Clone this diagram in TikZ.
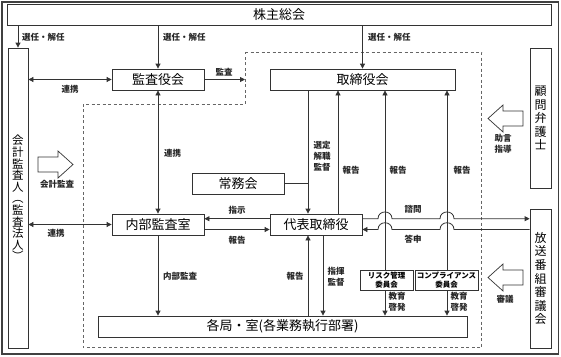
\documentclass[tikz,border=0pt]{standalone}
\usepackage{fontspec}
\newfontfamily\jp{Noto Sans CJK JP}
\usetikzlibrary{arrows.meta}
\begin{document}
\begin{tikzpicture}[x=1pt,y=-1pt,
  box/.style={draw=black!80, line width=0.8pt, inner sep=0pt, fill=white,
    font=\jp\fontsize{13}{13}\selectfont},
  vbox/.style={box, align=center, minimum width=21pt},
  cbox/.style={box, align=center, minimum height=20pt,
    font=\jp\bfseries\fontsize{7.5}{9.5}\selectfont},
  lbl/.style={font=\jp\bfseries\fontsize{8.5}{11}\selectfont, inner sep=0pt, align=center, text=black!85},
  conn/.style={draw=black!80, line width=0.8pt},
  arr/.style={conn, -{Triangle[length=5pt,width=5pt]}},
  darr/.style={conn, {Triangle[length=5pt,width=5pt]}-{Triangle[length=5pt,width=5pt]}},
  hollow/.style={draw=black!80, line width=0.7pt, fill=white},
]
\useasboundingbox (0,0) rectangle (561,356);
\fill[white] (0,0) rectangle (561,356);
\draw[black!75, line width=1.1pt] (2,2) rectangle (558.5,354);

% dashed region
\draw[black!60, line width=0.8pt, dash pattern=on 3pt off 2.5pt]
  (245,52) -- (481.5,52) -- (481.5,347.5) -- (83,347.5) -- (83,104) -- (245,104) -- cycle;

% boxes
\node[box, minimum width=544pt, minimum height=21pt] (sh) at (279,14.5) {株主総会};
\node[vbox, minimum width=20pt, minimum height=300pt,
  font=\jp\fontsize{11.5}{11.6}\selectfont] (kaikei) at (18,198)
  {会\\計\\監\\査\\人\\︵\\監\\査\\法\\人\\︶};
\node[vbox, minimum height=140pt, font=\jp\fontsize{12}{13.4}\selectfont] (komon) at (540.5,118)
  {顧\\問\\弁\\護\\士};
\node[vbox, minimum height=139pt, font=\jp\fontsize{12}{13.6}\selectfont] (houso) at (540.5,278.5)
  {放\\送\\番\\組\\審\\議\\会};
\node[box, minimum width=92pt, minimum height=21pt] (kansa) at (158,79.5) {監査役会};
\node[box, minimum width=185pt, minimum height=21pt] (tori) at (362.5,79.5) {取締役会};
\node[box, minimum width=92pt, minimum height=21pt] (jomu) at (238,183.5) {常務会};
\node[box, minimum width=92pt, minimum height=21pt] (naibu) at (158,224.5) {内部監査室};
\node[box, minimum width=92pt, minimum height=21pt] (daihyo) at (316,224.5) {代表取締役};
\node[box, minimum width=369pt, minimum height=21pt] (kak) at (282.5,326.5) {各局・室(各業務執行部署)};
\node[cbox, minimum width=53pt] (risk) at (386.5,280) {リスク管理\\委員会};
\node[cbox, minimum width=63pt] (comp) at (446.5,280) {コンプライアンス\\委員会};

% helper coordinates
\coordinate (xA) at (308,0);
\coordinate (xB) at (338,0);
\coordinate (xC) at (385,0);
\coordinate (xD) at (323,0);
\coordinate (xE) at (447,0);
\coordinate (yA) at (0,218.7);
\coordinate (yB) at (0,229.5);
\coordinate (kansaEnd) at (245,79.5);

% 選任・解任
\draw[arr] (sh.south -| kaikei.north) -- (kaikei.north);
\draw[arr] (sh.south -| kansa.north) -- (kansa.north);
\draw[arr] (sh.south -| tori.north) -- (tori.north);
\node[lbl, anchor=west] (s1) at (22,37) {選任・解任};
\node[lbl, anchor=west] (s2) at (163,37) {選任・解任};
\node[lbl, anchor=west] (s3) at (368,37) {選任・解任};

% 連携 / 監査
\draw[darr] (kaikei.east |- kansa.west) -- (kansa.west);
\node[lbl] (r1) at (70,89) {連携};
\draw[arr] (kansa.east) -- (kansaEnd);
\node[lbl] (k1) at (224,72) {監査};
\draw[darr] (kansa.south) -- (naibu.north);
\node[lbl] (r2) at (172.5,153) {連携};
\draw[darr] (kaikei.east |- naibu.west) -- (naibu.west);
\node[lbl] (r3) at (56,233) {連携};

% 取締役会 - 代表取締役
\draw[arr] (tori.south -| xA) -- (daihyo.north -| xA);
\node[lbl] (sen) at (322,156.5) {選定\\解職\\監督};
\draw[conn] (jomu.east) -- (jomu.east -| xA);
\draw[arr] (daihyo.north -| xB) -- (tori.south -| xB);
\node[lbl] (h1) at (351,170) {報告};
\draw[arr] (risk.north -| xC) -- (tori.south -| xC);
\node[lbl] (h2) at (398,170) {報告};
\draw[arr] (comp.north -| xE) -- (tori.south -| xE);
\node[lbl] (h3) at (462,170) {報告};

% 教育啓発
\draw[arr] (risk.south -| xC) -- (kak.north -| xC);
\node[lbl] (e1) at (397,301.5) {教育\\啓発};
\draw[arr] (comp.south -| xE) -- (kak.north -| xE);
\node[lbl] (e2) at (459,301.5) {教育\\啓発};

% 指示 / 報告
\draw[arr] (daihyo.west |- yA) -- (naibu.east |- yA);
\node[lbl] (sj) at (237,210) {指示};
\draw[arr] (naibu.east |- yB) -- (daihyo.west |- yB);
\node[lbl] (h4) at (237,240) {報告};

% 内部監査
\draw[arr] (naibu.south) -- (kak.north -| naibu.south);
\node[lbl, anchor=west] (nb) at (163,276) {内部監査};

% 代表取締役 - 各局
\draw[arr] (kak.north -| xA) -- (daihyo.south -| xA);
\node[lbl] (h5) at (295,276) {報告};
\draw[arr] (daihyo.south -| xD) -- (kak.north -| xD);
\node[lbl] (sk) at (336,276.5) {指揮\\監督};

% 諮問 / 答申 with jumps
\draw[arr] (daihyo.east |- yA) -- (378,218.7) .. controls (378,209.7) and (392,209.7) .. (392,218.7)
  -- (440,218.7) .. controls (440,209.7) and (454,209.7) .. (454,218.7) -- (houso.west |- yA);
\node[lbl] (sm) at (413,209) {諮問};
\draw[arr] (houso.west |- yB) -- (454,229.5) .. controls (454,220.5) and (440,220.5) .. (440,229.5)
  -- (392,229.5) .. controls (392,220.5) and (378,220.5) .. (378,229.5) -- (daihyo.east |- yB);
\node[lbl] (ts) at (413,239.5) {答申};

% hollow arrows
\draw[hollow] (38,157) -- (58,157) -- (58,151) -- (73,164.5) -- (58,178) -- (58,172) -- (38,172) -- cycle;
\node[lbl] (kk) at (57,184) {会計監査};
\draw[hollow] (523,111) -- (503,111) -- (503,105) -- (488,118.5) -- (503,132) -- (503,126) -- (523,126) -- cycle;
\node[lbl] (jo) at (503,144) {助言\\指導};
\draw[hollow] (523,270) -- (503,270) -- (503,264) -- (488,277.5) -- (503,291) -- (503,285) -- (523,285) -- cycle;
\node[lbl] (sg) at (505,299) {審議};
\end{tikzpicture}
\end{document}
